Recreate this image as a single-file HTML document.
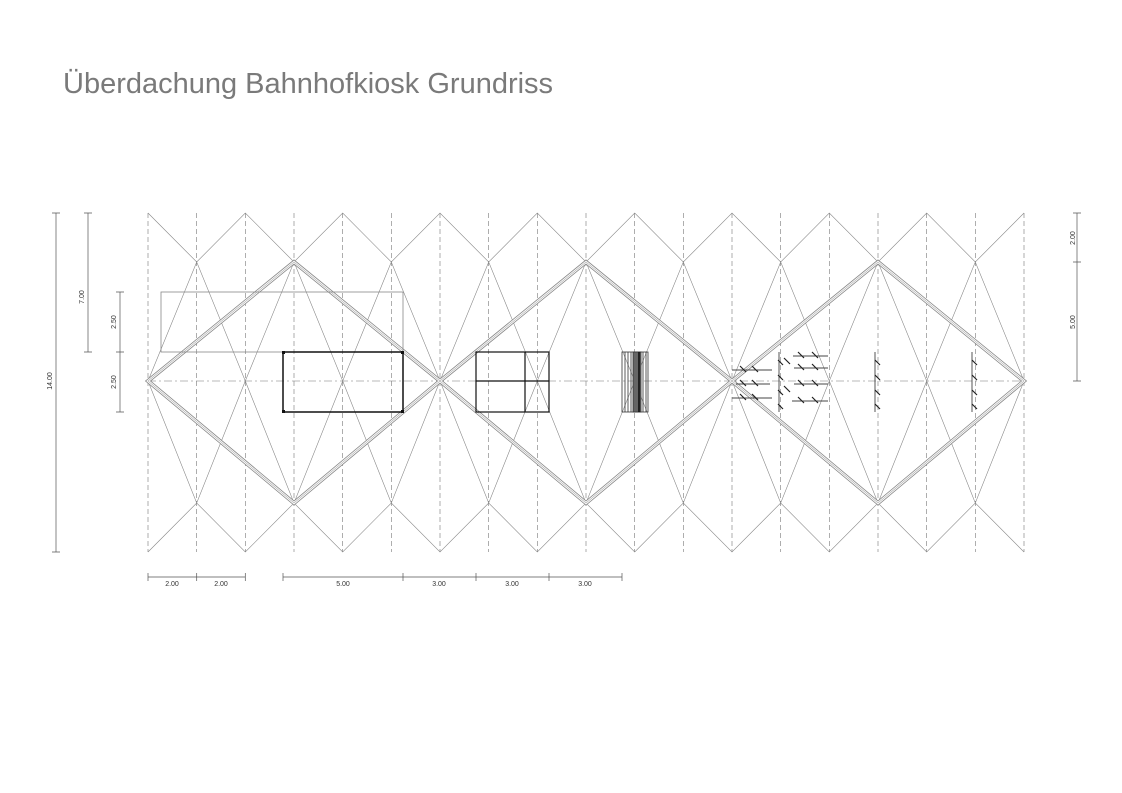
<!DOCTYPE html>
<html><head><meta charset="utf-8"><style>
html,body{margin:0;padding:0;background:#fff;}
svg{display:block}
</style></head><body>
<svg width="1122" height="793" viewBox="0 0 1122 793" xmlns="http://www.w3.org/2000/svg" font-family="Liberation Sans, sans-serif">
<text x="63" y="93" font-size="29" fill="#7a7a7a">Überdachung Bahnhofkiosk Grundriss</text>
<g stroke="#777" stroke-width="0.6" fill="none" stroke-dasharray="5,3">
<path d="M148 213V552M196.7 213V552M245.3 213V552M294 213V552M342.7 213V552M391.3 213V552M440 213V552M488.7 213V552M537.3 213V552M586 213V552M634.7 213V552M683.3 213V552M732 213V552M780.7 213V552M829.3 213V552M878 213V552M926.7 213V552M975.3 213V552M1024 213V552"/>
<path d="M148 381H1024" stroke-dasharray="8,3,2,3"/>
</g>
<g stroke="#888" stroke-width="0.6" fill="none">
<polyline points="148,213 196.7,262 245.3,213 294,262 342.7,213 391.3,262 440,213 488.7,262 537.3,213 586,262 634.7,213 683.3,262 732,213 780.7,262 829.3,213 878,262 926.7,213 975.3,262 1024,213"/>
<polyline points="148,552 196.7,503 245.3,552 294,503 342.7,552 391.3,503 440,552 488.7,503 537.3,552 586,503 634.7,552 683.3,503 732,552 780.7,503 829.3,552 878,503 926.7,552 975.3,503 1024,552"/>
<polyline points="148,381 196.7,262 245.3,381 294,262 342.7,381 391.3,262 440,381 488.7,262 537.3,381 586,262 634.7,381 683.3,262 732,381 780.7,262 829.3,381 878,262 926.7,381 975.3,262 1024,381"/>
<polyline points="148,381 196.7,503 245.3,381 294,503 342.7,381 391.3,503 440,381 488.7,503 537.3,381 586,503 634.7,381 683.3,503 732,381 780.7,503 829.3,381 878,503 926.7,381 975.3,503 1024,381"/>
</g>
<g fill="none">
<path id="d" d="M148 381L294 262L440 381L294 503ZM440 381L586 262L732 381L586 503ZM732 381L878 262L1024 381L878 503Z" stroke="#888" stroke-width="4"/>
<path d="M148 381L294 262L440 381L294 503ZM440 381L586 262L732 381L586 503ZM732 381L878 262L1024 381L878 503Z" stroke="#fff" stroke-width="2.4"/>
<path d="M148 381L294 262L440 381L294 503ZM440 381L586 262L732 381L586 503ZM732 381L878 262L1024 381L878 503Z" stroke="#aaa" stroke-width="0.6"/>
</g>
<rect x="161" y="292" width="242" height="60" fill="none" stroke="#888" stroke-width="0.8"/>
<rect x="283" y="352" width="120" height="60" fill="none" stroke="#111" stroke-width="1.5"/>
<g fill="#111"><rect x="282" y="351" width="3" height="3"/><rect x="401" y="351" width="3" height="3"/><rect x="282" y="410" width="3" height="3"/><rect x="401" y="410" width="3" height="3"/></g>
<g fill="none" stroke="#111" stroke-width="1.2">
<rect x="476" y="352" width="73" height="60"/>
<path d="M476 381H549M525 352V412"/>
</g>
<g stroke="#333" stroke-width="0.8">
<rect x="622" y="352" width="26" height="60" fill="none"/>
<path d="M625 352V412M628 352V412M631 352V412M634 352V412M637 352V412M640 352V412M643 352V412M646 352V412"/>
<rect x="633" y="352" width="8" height="60" fill="#666"/>
<path d="M639 352V412" stroke-width="1.6" stroke="#111"/>
</g>
<g stroke="#444" stroke-width="0.9" fill="none">
<path d="M732 370H772M736 384H770M732 398H772M793 356H828M794 368H828M794 384H828M792 401H828"/>
<path d="M779 352V412M875 352V412M972 352V412"/>
</g>
<g stroke="#222" stroke-width="1.2">
<path d="M740 366l6 6M740 380l6 6M740 394l6 6M752 366l6 6M752 380l6 6M752 394l6 6M784 358l6 6M784 386l6 6M798 352l6 6M798 364l6 6M798 380l6 6M798 397l6 6M812 352l6 6M812 364l6 6M812 380l6 6M812 397l6 6M778 360l5 5M778 375l5 5M778 390l5 5M778 404l5 5M875 360l5 5M875 375l5 5M875 390l5 5M875 404l5 5M972 360l5 5M972 375l5 5M972 390l5 5M972 404l5 5"/>
</g>
<g stroke="#555" stroke-width="0.7" fill="none">
<path d="M56 213V552M52 213H60M52 552H60"/>
<path d="M88 213V352M84 213H92M84 352H92"/>
<path d="M120 292V412M116 292H124M116 352H124M116 412H124"/>
<path d="M1077 213V381M1073 213H1081M1073 262H1081M1073 381H1081"/>
<path d="M148 577H245M148 573V581M196.7 573V581M245.3 573V581"/>
<path d="M283 577H622M283 573V581M403 573V581M476 573V581M549 573V581M622 573V581"/>
</g>
<g font-size="7" fill="#333" text-anchor="middle">
<text transform="translate(52,381) rotate(-90)">14.00</text>
<text transform="translate(84,297) rotate(-90)">7.00</text>
<text transform="translate(116,322) rotate(-90)">2.50</text>
<text transform="translate(116,382) rotate(-90)">2.50</text>
<text transform="translate(1075,238) rotate(-90)">2.00</text>
<text transform="translate(1075,322) rotate(-90)">5.00</text>
<text x="172" y="586">2.00</text>
<text x="221" y="586">2.00</text>
<text x="343" y="586">5.00</text>
<text x="439" y="586">3.00</text>
<text x="512" y="586">3.00</text>
<text x="585" y="586">3.00</text>
</g>
</svg>
</body></html>
